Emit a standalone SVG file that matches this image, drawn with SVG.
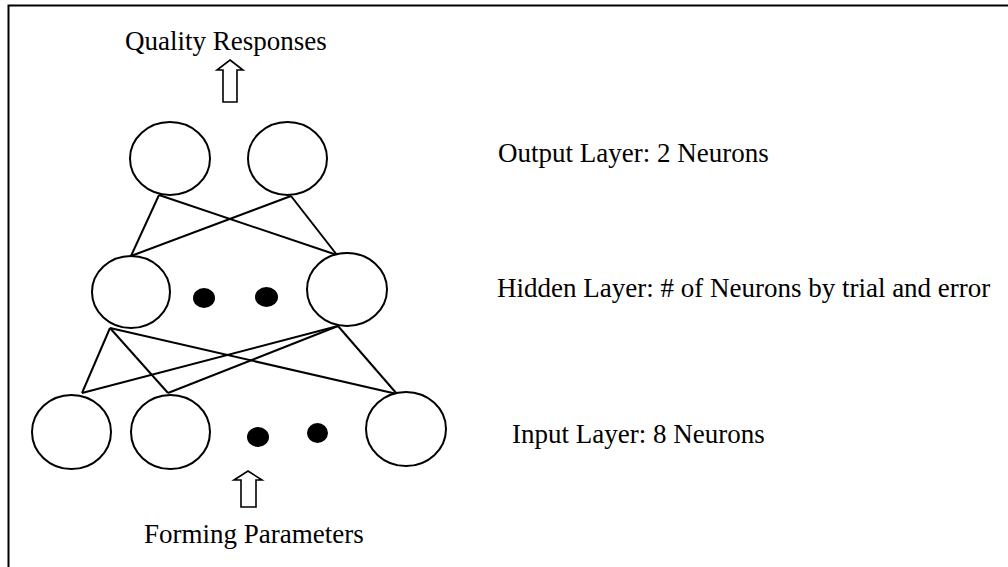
<svg xmlns="http://www.w3.org/2000/svg" width="1008" height="567" viewBox="0 0 1008 567">
<style>
.n{fill:#fff;stroke:#000;stroke-width:2}
.d{fill:#000;stroke:none}
.c line{stroke:#000;stroke-width:2}
.t{font-family:"Liberation Serif","Times New Roman",serif;font-size:27px;fill:#000}
.a{fill:#fff;stroke:#000;stroke-width:1.6;stroke-linejoin:miter}
</style>
<rect width="1008" height="567" fill="#fff"/>
<path d="M8.5,567 V5.5 H1008" fill="none" stroke="#000" stroke-width="2"/>
<g id="connectors" class="c">
<line x1="159" y1="195" x2="131" y2="256"/>
<line x1="159" y1="195" x2="337" y2="255"/>
<line x1="291" y1="196" x2="131" y2="256"/>
<line x1="291" y1="196" x2="337" y2="255"/>
<line x1="110" y1="328" x2="82" y2="393"/>
<line x1="110" y1="328" x2="168" y2="393"/>
<line x1="110" y1="328" x2="397" y2="394"/>
<line x1="338" y1="326" x2="82" y2="393"/>
<line x1="338" y1="326" x2="168" y2="393"/>
<line x1="338" y1="326" x2="397" y2="394"/>
</g>
<g id="output1"><ellipse class="n" cx="170" cy="158.5" rx="40" ry="36.5"/></g>
<g id="output2"><ellipse class="n" cx="287.5" cy="158.5" rx="39.5" ry="36.5"/></g>
<g id="hidden1"><ellipse class="n" cx="131" cy="292" rx="39" ry="36"/></g>
<g id="hidden-dots"><ellipse class="d" cx="204" cy="298" rx="11" ry="10"/><ellipse class="d" cx="266.5" cy="297" rx="11.5" ry="10"/></g>
<g id="hidden2"><ellipse class="n" cx="347" cy="289.5" rx="40" ry="36.5"/></g>
<g id="input1"><ellipse class="n" cx="71.5" cy="432" rx="39.5" ry="37"/></g>
<g id="input2"><ellipse class="n" cx="170.5" cy="432" rx="39.5" ry="37"/></g>
<g id="input-dots"><ellipse class="d" cx="258" cy="437" rx="11" ry="10"/><ellipse class="d" cx="317.5" cy="433" rx="10.5" ry="10"/></g>
<g id="input3"><ellipse class="n" cx="406" cy="429" rx="40" ry="37"/></g>
<g id="arrow-out"><polygon class="a" points="230,60 243,70 237,70 237,102 223,102 223,70 217,70"/></g>
<g id="arrow-in"><polygon class="a" points="248,471 262,480 256,480 256,507 241,507 241,480 234,480"/></g>
<g id="labels">
<text class="t" x="125" y="50">Quality Responses</text>
<text class="t" x="144" y="543">Forming Parameters</text>
<text class="t" x="498" y="162">Output Layer: 2 Neurons</text>
<text class="t" x="497" y="297">Hidden Layer: # of Neurons by trial and error</text>
<text class="t" x="512" y="443">Input Layer: 8 Neurons</text>
</g>
</svg>
